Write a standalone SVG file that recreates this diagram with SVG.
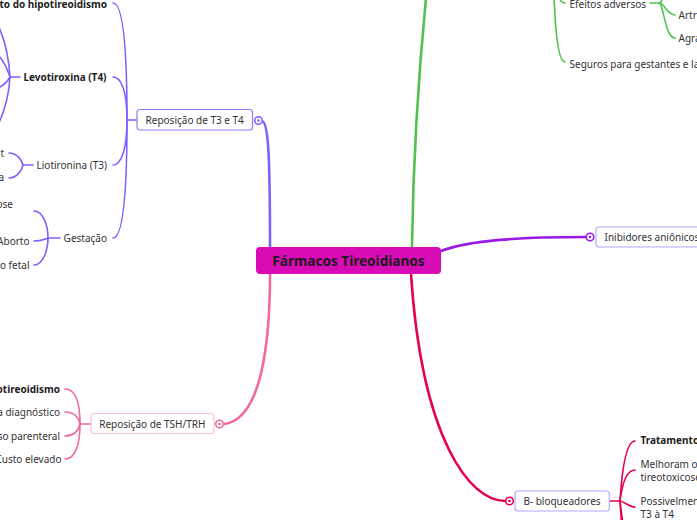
<svg xmlns="http://www.w3.org/2000/svg" width="697" height="520" viewBox="0 0 697 520">
<style>
text{font-family:"Noto Sans","Open Sans","DejaVu Sans",sans-serif;font-size:10px;fill:#333}
.b{font-weight:bold;fill:#222}
.e{text-anchor:end}
.m{text-anchor:middle}
.c{fill:none;stroke-linecap:round}
.bl{stroke:#7b61ff}
.gr{stroke:#52c150}
.pu{stroke:#9a1ae6}
.pk{stroke:#f06a9b}
.rd{stroke:#e6004f}
.thick{stroke-width:2.6}
.thin{stroke-width:1.6}
.box{fill:#fff;stroke-width:1.2}
.dot{fill:#fff;stroke-width:1.6}
</style>
<rect width="697" height="520" fill="#fff"/>
<g id="connectors">
  <path class="c bl thick" d="M262,121 C268,122 270,150 270,247"/>
  <path class="c gr thick" d="M412,247 C413,170 418,80 426,-2"/>
  <path class="c pu thick" d="M441,251 C470,240 520,237 586,237"/>
  <path class="c pk thick" d="M270,274 C270,340 262,420 224,424"/>
  <path class="c rd thick" d="M411,274 C422,440 470,501 505,501"/>
  <path class="c bl thin" d="M137,120 L127,120"/>
  <path class="c bl thin" d="M113,3 C121,3 127,30 127,120"/>
  <path class="c bl thin" d="M113,77 C121,77 127,90 127,120"/>
  <path class="c bl thin" d="M113,165 C121,165 127,150 127,120"/>
  <path class="c bl thin" d="M113,238 C121,238 127,210 127,120"/>
  <path class="c bl thin" d="M20,77 L10,77"/>
  <path class="c bl thin" d="M10,77 C9,60 5,40 -2,25"/>
  <path class="c bl thin" d="M10,77 C7,68 3,60 -2,55"/>
  <path class="c bl thin" d="M10,77 C7,82 3,86 -2,88"/>
  <path class="c bl thin" d="M10,77 C9,95 5,110 -2,125"/>
  <path class="c bl thin" d="M33,165 L23,165"/>
  <path class="c bl thin" d="M9,153 C17,153 22,160 23,165"/>
  <path class="c bl thin" d="M9,178 C17,178 22,170 23,165"/>
  <path class="c bl thin" d="M60,238 L48,238"/>
  <path class="c bl thin" d="M34,211 C43,211 48,225 48,238"/>
  <path class="c bl thin" d="M34,241 C40,241 45,239 48,238"/>
  <path class="c bl thin" d="M34,265 C43,265 48,250 48,238"/>
  <path class="c pk thin" d="M91,424 L80,424"/>
  <path class="c pk thin" d="M65,389 C75,389 80,400 80,424"/>
  <path class="c pk thin" d="M65,412 C73,412 78,415 80,424"/>
  <path class="c pk thin" d="M65,436 C73,436 78,432 80,424"/>
  <path class="c pk thin" d="M65,459 C75,459 80,445 80,424"/>
  <path class="c gr thin" d="M553,-40 C554,20 557,62 565,62"/>
  <path class="c gr thin" d="M553,-40 C556,-5 559,3 565,3"/>
  <path class="c gr thin" d="M650,3 L660,3"/>
  <path class="c gr thin" d="M660,3 C664,4 668,15 675,15"/>
  <path class="c gr thin" d="M660,3 C664,10 666,38 675,38"/>
  <path class="c gr thin" d="M660,3 C663,0 665,-10 675,-10"/>
  <path class="c rd thin" d="M609,501 L620,501"/>
  <path class="c rd thin" d="M620,501 C622,470 626,441 635,441"/>
  <path class="c rd thin" d="M620,501 C622,485 626,470 635,470"/>
  <path class="c rd thin" d="M620,501 C625,502 629,507 635,507"/>
  <path class="c rd thin" d="M620,501 C621,515 622,530 624,560"/>
  <path class="c rd thin" d="M620,501 C622,520 625,540 635,580"/>
</g>
<g id="center">
  <rect x="256" y="247" width="185" height="27" rx="4" fill="#d90bb5"/>
  <text x="348.5" y="265.8" class="m b" style="font-size:13.6px;fill:#1a1a1a">Fármacos Tireoidianos</text>
</g>
<g id="n-t3t4">
  <rect x="137" y="109.5" width="115.5" height="20.5" rx="3" class="box" stroke="#8f7dff"/>
  <text x="194.7" y="123.6" class="m">Reposição de T3 e T4</text>
  <circle cx="258.5" cy="120.5" r="3.8" class="dot bl"/>
  <circle cx="258.5" cy="120.5" r="1.3" fill="#7b61ff"/>
</g>
<g id="n-hipo"><text x="107" y="7.5" class="e b">to do hipotireoidismo</text></g>
<g id="n-levo"><text x="106.5" y="81.2" class="e b">Levotiroxina (T4)</text></g>
<g id="n-lio"><text x="107" y="169.2" class="e">Liotironina (T3)</text></g>
<g id="n-t"><text x="4" y="156.8" class="e">t</text></g>
<g id="n-a"><text x="4" y="181.2" class="e">a</text></g>
<g id="n-gest"><text x="107" y="241.8" class="e">Gestação</text></g>
<g id="n-ose"><text x="13" y="207.5" class="e">ose</text></g>
<g id="n-aborto"><text x="29.5" y="245.2" class="e">Aborto</text></g>
<g id="n-fetal"><text x="29.5" y="269.2" class="e">o fetal</text></g>
<g id="n-tsh">
  <rect x="91" y="413.5" width="123" height="20" rx="3" class="box" stroke="#f7c3d7"/>
  <text x="152.3" y="427.5" class="m">Reposição de TSH/TRH</text>
  <circle cx="219.5" cy="424" r="3.8" class="dot pk"/>
  <circle cx="219.5" cy="424" r="1.3" fill="#f06a9b"/>
</g>
<g id="n-otireo"><text x="60" y="392.8" class="e b">otireoidismo</text></g>
<g id="n-diag"><text x="60" y="415.8" class="e">a diagnóstico</text></g>
<g id="n-paren"><text x="60" y="439.5" class="e">so parenteral</text></g>
<g id="n-custo"><text x="61.5" y="462.8" class="e">Custo elevado</text></g>
<g id="n-efeitos"><text x="569.5" y="7.5">Efeitos adversos</text></g>
<g id="n-artr"><text x="678.5" y="18.5">Artr</text></g>
<g id="n-agra"><text x="678.5" y="41.8">Agra</text></g>
<g id="n-seguros"><text x="569.5" y="67.5">Seguros para gestantes e la</text></g>
<g id="n-inib">
  <rect x="596" y="227" width="120" height="20" rx="3" class="box" stroke="#b3a9ff"/>
  <text x="604.5" y="240.8">Inibidores aniônicos</text>
  <circle cx="590" cy="237" r="3.8" class="dot pu"/>
  <circle cx="590" cy="237" r="1.3" fill="#9a1ae6"/>
</g>
<g id="n-beta">
  <rect x="515" y="491" width="94.3" height="20" rx="3" class="box" stroke="#b3a9ff"/>
  <text x="562" y="504.8" class="m">B- bloqueadores</text>
  <circle cx="509.5" cy="501" r="3.8" class="dot rd"/>
  <circle cx="509.5" cy="501" r="1.3" fill="#e6004f"/>
</g>
<g id="n-trat"><text x="640.5" y="444.2" class="b">Tratamento</text></g>
<g id="n-melh"><text x="640.5" y="467.8">Melhoram os</text><text x="640.5" y="480.8">tireotoxicose</text></g>
<g id="n-poss"><text x="640.5" y="505.2">Possivelmente</text><text x="640.5" y="517.8">T3 à T4</text></g>
</svg>
